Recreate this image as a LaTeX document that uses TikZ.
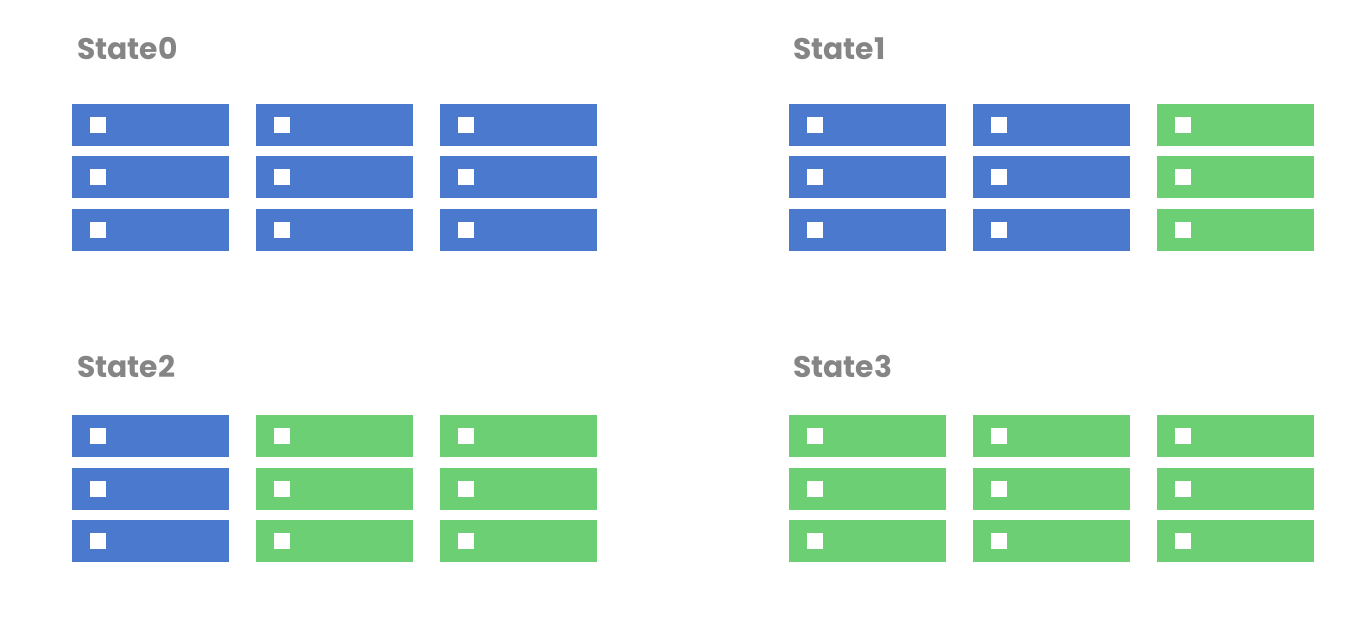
\documentclass[tikz,border=0pt]{standalone}
\usepackage{fontspec}
\setmainfont{Poppins}
\definecolor{srvblue}{HTML}{4A79CD}
\definecolor{srvgreen}{HTML}{6DCF73}
\definecolor{titlegray}{HTML}{858585}
\tikzset{
  server/.style={fill=#1, draw=none, minimum width=157pt, minimum height=42pt, inner sep=0pt, anchor=north west},
  led/.style={fill=white, draw=none, minimum width=16pt, minimum height=16pt, inner sep=0pt},
  title/.style={anchor=base west, inner sep=0pt, text=titlegray, font=\fontsize{29.8}{32}\selectfont\bfseries}
}
\begin{document}
\begin{tikzpicture}[x=1pt,y=-1pt]
\useasboundingbox (0,0) rectangle (1368,628);
% titles
\node[title] (t0) at (77,60) {State0};
\node[title] (t1) at (793,60) {State1};
\node[title] (t2) at (77,377) {State2};
\node[title] (t3) at (793,377) {State3};
% state definitions: group x, group y, colours of three columns
\foreach \s/\gx/\gy/\ca/\cb/\cc in {0/72/104/srvblue/srvblue/srvblue,
                                    1/789/104/srvblue/srvblue/srvgreen,
                                    2/72/415/srvblue/srvgreen/srvgreen,
                                    3/789/415/srvgreen/srvgreen/srvgreen}{
  \foreach \c/\col in {0/\ca,1/\cb,2/\cc}{
    \foreach \r in {0,1,2}{
      \node[server=\col] (s\s c\c r\r) at (\gx+\c*184,\gy+\r*52.3) {};
      \node[led] (l\s c\c r\r) at ([xshift=26pt]s\s c\c r\r.west) {};
    }
  }
}
\end{tikzpicture}
\end{document}
